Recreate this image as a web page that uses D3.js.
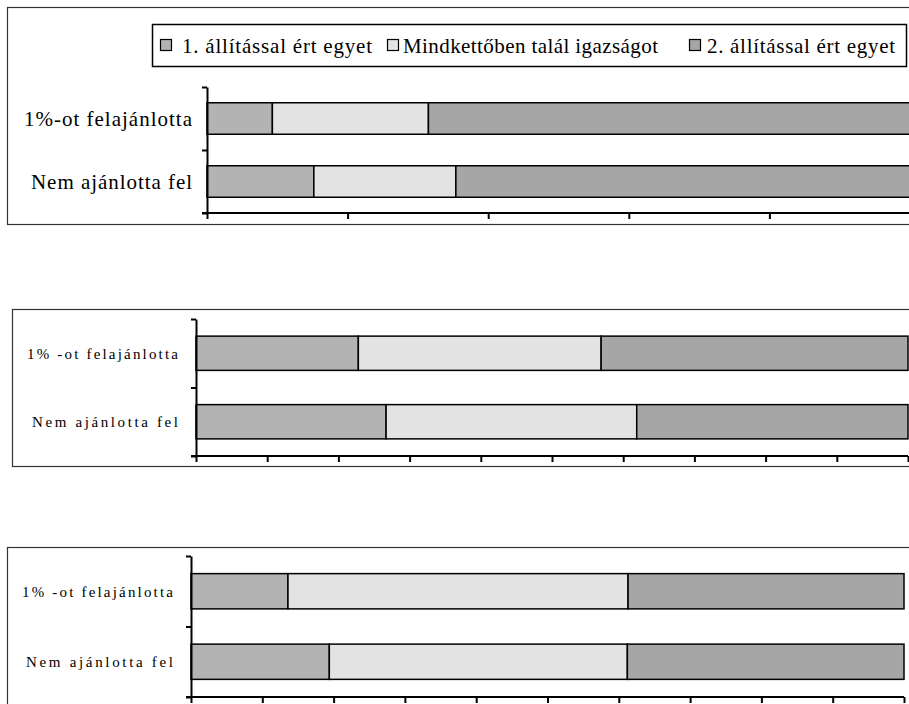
<!DOCTYPE html>
<html><head><meta charset="utf-8">
<script src="https://cdn.jsdelivr.net/npm/d3@7"></script>
<style>
body{margin:0;background:#fff;overflow:hidden} svg{display:block}
svg text{font-family:"Liberation Serif","Times New Roman",Times,serif}
</style>
</head><body><svg id="c" width="909" height="704"></svg>
<script>
// ---- data ----
const categories1 = ["1%-ot felajánlotta", "Nem ajánlotta fel"];
const categories2 = ["1% -ot felajánlotta", "Nem ajánlotta fel"];
const seriesNames = ["1. állítással ért egyet", "Mindkettőben talál igazságot", "2. állítással ért egyet"];
const panel1Values = [[9.3, 22.2, 68.5], [15.2, 20.2, 64.6]];
const panel2Values = [[22.8, 34.1, 43.1], [26.7, 35.2, 38.1]];
const panel3Values = [[13.6, 47.7, 38.7], [19.4, 41.8, 38.8]];
const xTicksCoarse = [0, 20, 40, 60, 80, 100];
const xTicksFine = [0, 10, 20, 30, 40, 50, 60, 70, 80, 90, 100];
const colors = ["#b3b3b3", "#e3e3e3", "#a6a6a6"];

// ---- layout ----
const panels = [
  {cats: categories1, vals: panel1Values, ticks: xTicksCoarse,
   frame: [7, 7, 1000, 217], x0: 207, x1: 910, yTop: 87, yBot: 213,
   labelX: 192, fs: 21, lw: [168, 161]},
  {cats: categories2, vals: panel2Values, ticks: xTicksFine,
   frame: [12, 309, 1000, 157], x0: 196, x1: 908, yTop: 319, yBot: 456,
   labelX: 178, fs: 15, lw: [151, 146]},
  {cats: categories2, vals: panel3Values, ticks: xTicksFine,
   frame: [7, 547, 1000, 300], x0: 191, x1: 904, yTop: 556, yBot: 697,
   labelX: 173, fs: 15, lw: [151, 147]}
];

const svg = d3.select("#c");

panels.forEach(p => {
  const g = svg.append("g");
  g.append("rect").attr("x", p.frame[0] + 0.5).attr("y", p.frame[1] + 0.5)
    .attr("width", p.frame[2]).attr("height", p.frame[3])
    .attr("fill", "#fff").attr("stroke", "#333").attr("stroke-width", 1.2);

  const x = d3.scaleLinear().domain([0, 100]).range([p.x0, p.x1]);
  const y = d3.scaleBand().domain(p.cats).range([p.yTop, p.yBot])
    .paddingInner(0.5).paddingOuter(0.25);

  // bars
  p.vals.forEach((row, i) => {
    let acc = 0;
    const segs = row.map((v, k) => { const s = {a: acc, b: acc + v, k}; acc += v; return s; });
    g.selectAll(null).data(segs).join("rect")
      .attr("x", d => x(d.a)).attr("width", d => x(d.b) - x(d.a))
      .attr("y", y(p.cats[i])).attr("height", y.bandwidth())
      .attr("fill", d => colors[d.k]).attr("stroke", "#000").attr("stroke-width", 1.5);
  });

  // x axis
  const xa = g.append("g").attr("transform", `translate(0,${p.yBot})`)
    .call(d3.axisBottom(x).tickValues(p.ticks).tickFormat("").tickSize(6).tickSizeOuter(0));
  xa.select(".domain").attr("stroke-width", 2).attr("d", `M${p.x0 - 5},0H${p.x1}`);
  xa.selectAll(".tick line").attr("stroke-width", 2);

  // y axis
  const yb = d3.scaleLinear().domain([0, p.cats.length]).range([p.yBot, p.yTop]);
  const ya = g.append("g").attr("transform", `translate(${p.x0},0)`)
    .call(d3.axisLeft(yb).tickValues(d3.range(p.cats.length + 1)).tickFormat("").tickSize(5).tickSizeOuter(0));
  ya.select(".domain").attr("stroke-width", 2);
  ya.selectAll(".tick line").attr("stroke-width", 2);

  // category labels
  g.selectAll(null).data(p.cats).join("text")
    .attr("x", p.labelX).attr("y", d => y(d) + y.bandwidth() / 2)
    .attr("dy", "0.35em").attr("text-anchor", "end")
    .attr("font-size", p.fs)
    .attr("textLength", (d, i) => p.lw[i]).attr("lengthAdjust", "spacing")
    .attr("fill", "#000").text(d => d);
});

// legend (panel 1)
const lg = svg.append("g");
lg.append("rect").attr("x", 152.5).attr("y", 24.5).attr("width", 754).attr("height", 42)
  .attr("fill", "#fff").attr("stroke", "#000").attr("stroke-width", 1.5);
const legendPos = [[160, 182, 190], [387, 403, 255], [689, 707, 188]];
seriesNames.forEach((name, i) => {
  const [sx, tx, tw] = legendPos[i];
  lg.append("rect").attr("x", sx + 0.5).attr("y", 39.5).attr("width", 11).attr("height", 11)
    .attr("fill", colors[i]).attr("stroke", "#000").attr("stroke-width", 1.2);
  lg.append("text").attr("x", tx).attr("y", 53)
    .attr("font-size", 21)
    .attr("textLength", tw).attr("lengthAdjust", "spacing")
    .attr("fill", "#000").text(name);
});
</script></body></html>
